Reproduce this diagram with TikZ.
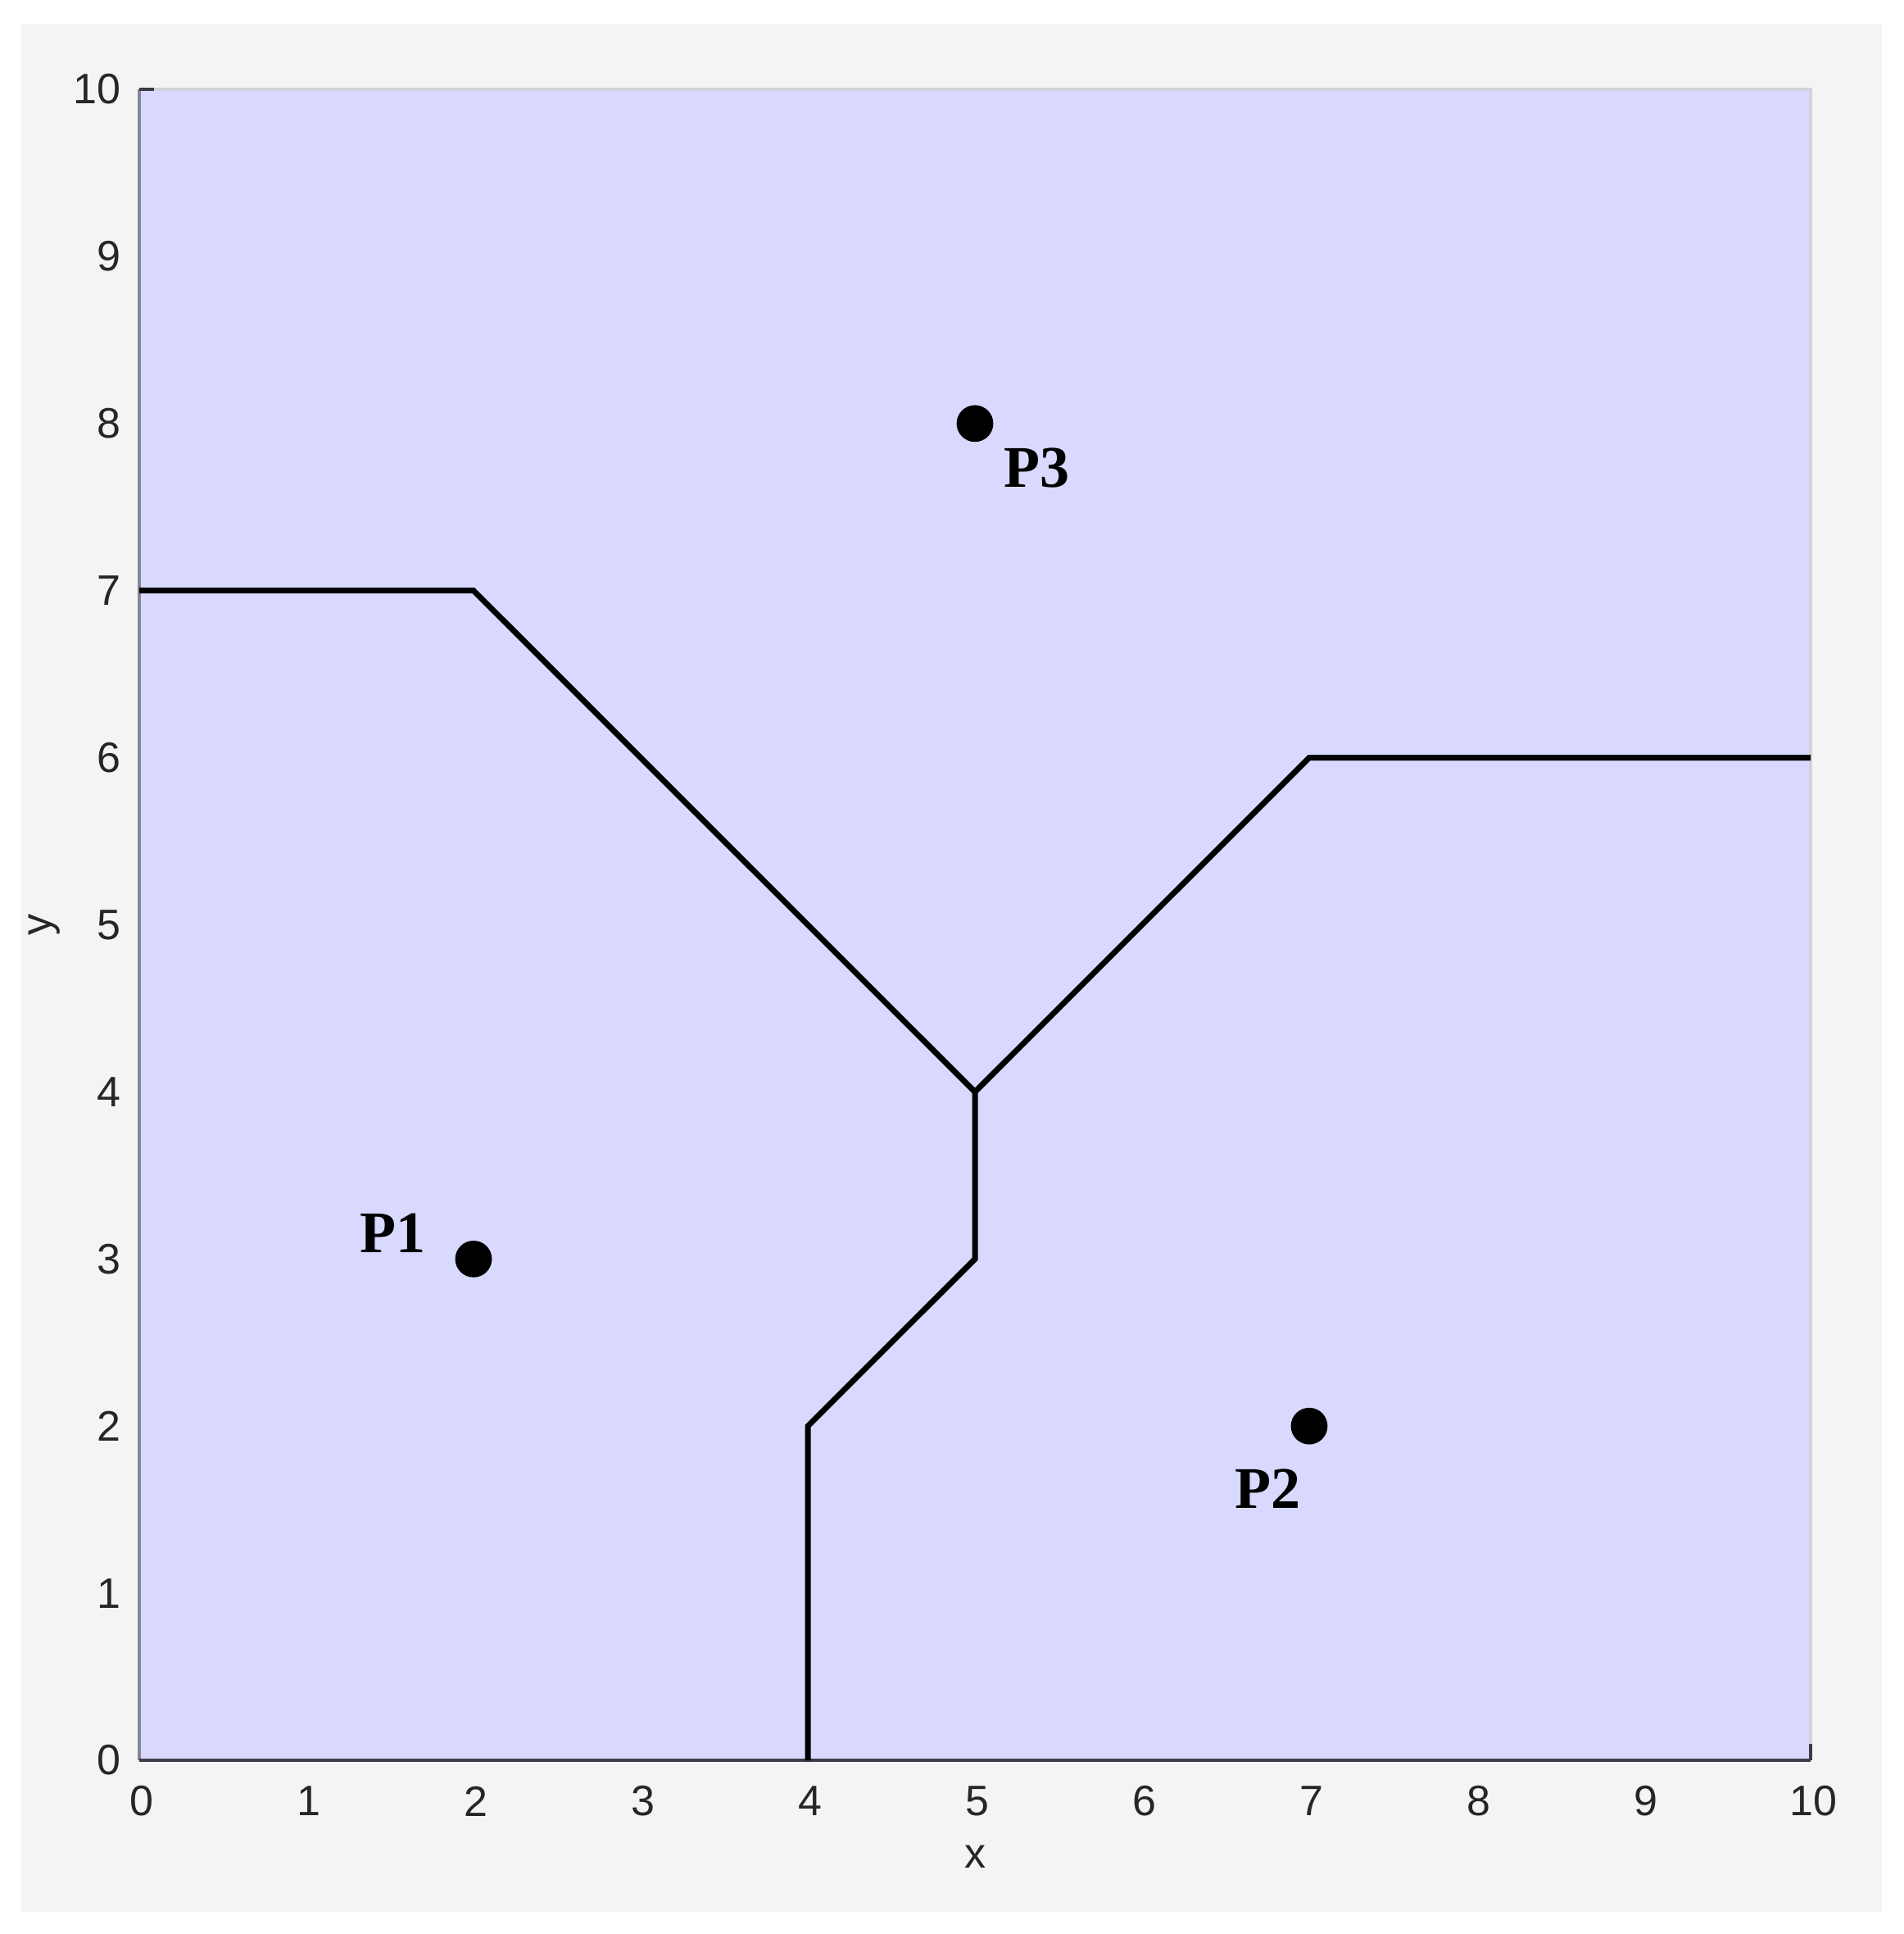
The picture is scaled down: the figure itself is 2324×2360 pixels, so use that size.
\documentclass[tikz,border=0pt]{standalone}
\usepackage{fontspec}
\setmainfont{Liberation Sans}
\newfontfamily\serifbold{Liberation Serif}
\definecolor{bgray}{HTML}{F4F4F4}
\definecolor{fillc}{HTML}{D9D9FF}
\definecolor{axdark}{HTML}{3C3C46}
\definecolor{axleft}{HTML}{85859A}
\definecolor{axlight}{HTML}{D2D2DA}
\definecolor{txt}{HTML}{262626}
\begin{document}
\begin{tikzpicture}[x=0.25pt,y=-0.25pt,
  ticklab/.style={text=txt,font=\fontsize{13}{15}\selectfont,inner sep=0pt},
  ptlab/.style={font=\serifbold\bfseries\fontsize{18}{20}\selectfont,inner sep=0pt},
  dotn/.style={circle,fill=black,minimum size=11.2pt,inner sep=0pt},
  vline/.style={line width=1.75pt,black,line join=miter}]
\useasboundingbox (0,0) rectangle (2324,2360);
\fill[white] (0,0) rectangle (2324,2360);
\fill[bgray] (26,29) rectangle (2297,2333);
% data coordinates: x px = 170 + 204*X, y px = 2148 - 203.9*Y
\fill[fillc] (170,109) rectangle (2210,2148);
\draw[axlight,line width=1.2pt] (170,109) -- (2210,109) -- (2210,2148);
\draw[axleft,line width=1.2pt] (170,2148) -- (170,109);
\draw[axdark,line width=1.2pt] (170,2148) -- (2210,2148);
\draw[axdark,line width=1.2pt] (170,109) -- (188,109);
\draw[axdark,line width=1.2pt] (2210,2148) -- (2210,2128);
% y tick labels
\foreach \v in {0,...,10}{
  \node[ticklab,anchor=east] (yl\v) at (148,2148-203.9*\v) {\v};
}
% x tick labels
\foreach \v in {0,...,10}{
  \node[ticklab] (xl\v) at (173+204*\v,2198) {\v};
}
\node[ticklab] (xlab) at (1190,2266) {x};
\node[ticklab,rotate=90] (ylab) at (54,1128) {y};
% Voronoi edges
\coordinate (a) at (170,720.7);   % (0,7)
\coordinate (b) at (578,720.7);   % (2,7)
\coordinate (c) at (1190,1332.4); % (5,4)
\coordinate (d) at (1598,924.6);  % (7,6)
\coordinate (e) at (2210,924.6);  % (10,6)
\coordinate (f) at (1190,1536.3); % (5,3)
\coordinate (g) at (986,1740.2);  % (4,2)
\coordinate (h) at (986,2148);    % (4,0)
\draw[vline] (a) -- (b) -- (c) -- (d) -- (e);
\draw[vline] (c) -- (f) -- (g) -- (h);
% points
\node[dotn] (p1) at (578,1536.3) {};
\node[dotn] (p2) at (1598,1740.2) {};
\node[dotn] (p3) at (1190,516.8) {};
\node[ptlab] (l1) at (479,1505) {P1};
\node[ptlab] (l2) at (1547,1817) {P2};
\node[ptlab] (l3) at (1265,571) {P3};
\end{tikzpicture}
\end{document}
